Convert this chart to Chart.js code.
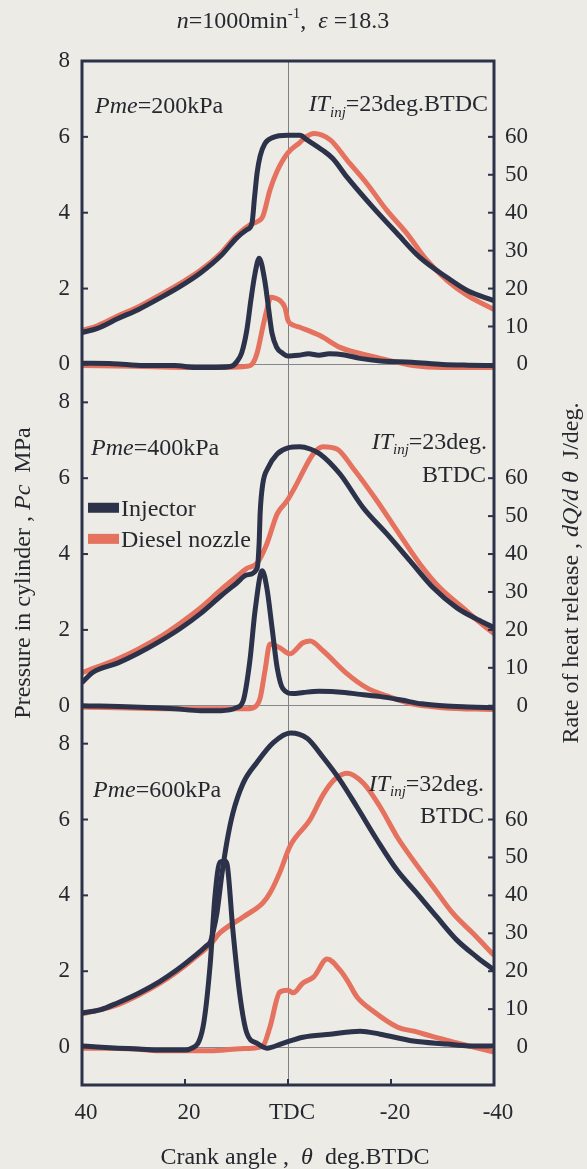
<!DOCTYPE html>
<html>
<head>
<meta charset="utf-8">
<script src="https://cdn.jsdelivr.net/npm/chart.js@4.4.0/dist/chart.umd.min.js"></script>
<style>
  body { margin: 0; background: #ecebe6; overflow: hidden; }
  canvas { display: block; }
</style>
</head>
<body>
<canvas id="chart" width="587" height="1169"></canvas>
<script>
// tick labels
const angleTicks = [40, 20, 0, -20, -40]
const pressureTicks = [0, 2, 4, 6, 8]
const heatTicks = [0, 10, 20, 30, 40, 50, 60]

// Pme = 200 kPa
const inj200PressAngle = [40, 37, 33, 29, 25, 21, 17, 13, 10, 8, 7, 6.5, 6, 5.4, 4.5, 3, 0, -2.3, -3.7, -6.8, -8.7, -11.5, -16.5, -21.2, -25.6, -30.9, -34.8, -40]
const inj200Press = [0.84, 0.95, 1.21, 1.45, 1.74, 2.05, 2.41, 2.87, 3.33, 3.55, 3.72, 4.4, 5.05, 5.5, 5.82, 5.98, 6.04, 6.04, 5.92, 5.64, 5.43, 4.93, 4.14, 3.45, 2.82, 2.29, 1.95, 1.68]
const dn200PressAngle = [40, 37, 33, 29, 25, 21, 17, 13, 10, 7.4, 6, 4.9, 3.5, 2.1, 0, -2.3, -3.5, -5, -8.2, -11.5, -15.3, -19.2, -23.1, -27, -30.9, -34.8, -40]
const dn200Press = [0.9, 1.02, 1.28, 1.52, 1.82, 2.13, 2.48, 2.94, 3.4, 3.68, 3.76, 3.9, 4.6, 5.1, 5.58, 5.85, 6.0, 6.09, 5.92, 5.38, 4.77, 4.06, 3.45, 2.74, 2.21, 1.82, 1.45]
const inj200HeatAngle = [40, 34, 28, 22, 18, 14, 11, 10, 9, 8, 7.2, 6.4, 5.6, 4.5, 3.8, 3.1, 2.2, 1, 0, -2, -4, -6, -8, -11, -14, -18, -24, -30, -35, -40]
const inj200Heat = [0.3, 0.2, -0.3, -0.3, -0.8, -0.8, -0.5, 0.6, 3, 9, 17, 24, 28, 22, 15, 8.2, 4.5, 2.9, 2.2, 2.4, 2.8, 2.4, 2.8, 2.5, 1.6, 0.9, 0.6, 0, -0.2, -0.3]
const dn200HeatAngle = [40, 30, 20, 12, 8, 7, 6, 4.9, 4, 3.3, 2.5, 1.6, 0.6, 0, -0.4, -2.3, -6.2, -10.1, -14, -17.9, -24.3, -30, -40]
const dn200Heat = [-0.3, -0.5, -0.8, -0.8, -0.5, 0, 3, 9.8, 15, 17.7, 17.5, 16.9, 15, 11.6, 10.8, 9.8, 7.6, 4.5, 2.9, 1.6, -0.3, -0.8, -0.8]

// Pme = 400 kPa
const inj400PressAngle = [40, 38, 33, 29, 25, 21, 17, 13, 10, 8, 6, 5.6, 5.4, 4.9, 3.9, 2.1, 0, -2.3, -4.3, -6.2, -10.1, -14.6, -19.2, -23.7, -28.2, -32.8, -37.3, -40]
const inj400Press = [0.61, 0.87, 1.13, 1.39, 1.69, 2.03, 2.43, 2.9, 3.23, 3.45, 3.62, 4.3, 5.1, 5.85, 6.27, 6.64, 6.8, 6.83, 6.77, 6.64, 6.11, 5.22, 4.53, 3.82, 3.11, 2.58, 2.24, 2.06]
const dn400PressAngle = [40, 33, 29, 25, 21, 17, 13, 10, 8, 6, 4.1, 2.1, 0.2, -1.7, -2.3, -4.9, -6.8, -9.5, -12.6, -17.3, -21.2, -25.6, -29.5, -34, -37.3, -40]
const dn400Press = [0.87, 1.24, 1.5, 1.8, 2.17, 2.58, 3.06, 3.4, 3.62, 3.76, 4.27, 5.06, 5.4, 5.85, 6.01, 6.64, 6.83, 6.77, 6.27, 5.4, 4.61, 3.74, 3.11, 2.58, 2.19, 1.9]
const inj400HeatAngle = [40, 30, 22, 17, 13, 10, 8.7, 7.4, 6.4, 5.0, 4.1, 3.1, 2.1, 1.0, -1, -3, -6, -11, -14, -18, -22, -26, -30, -35, -40]
const inj400Heat = [0, -0.3, -0.8, -1.3, -1.3, -0.5, 1.3, 11.9, 25, 35.6, 31, 20.6, 10, 4.5, 3.2, 3.5, 3.8, 3.5, 3.0, 2.4, 1.5, 0.5, 0, -0.3, -0.5]
const dn400HeatAngle = [40, 20, 8, 6.4, 5.4, 4.5, 3.5, 1.6, -0.4, -2.9, -4.3, -6.8, -11.5, -15.3, -19.2, -24, -30, -40]
const dn400Heat = [-0.3, -0.8, -0.8, -0.3, 2.1, 9, 16.3, 15.3, 13.7, 16.6, 17.1, 14.5, 8.4, 4.7, 2.6, 0.5, -0.5, -1.0]

// Pme = 600 kPa
const inj600PressAngle = [40, 36.5, 33, 29, 25, 21.6, 18.4, 16, 15, 14.6, 13.8, 12.8, 11.8, 10.7, 8.7, 6, 2.9, -0.5, -3.7, -6.8, -10.1, -13.4, -17.3, -21.2, -25, -28.9, -32.8, -36.7, -40]
const inj600Press = [0.9, 0.98, 1.17, 1.42, 1.72, 2.03, 2.37, 2.65, 2.8, 3.0, 3.53, 4.59, 5.46, 6.17, 6.96, 7.51, 8.02, 8.28, 8.14, 7.64, 7.04, 6.33, 5.46, 4.66, 4.06, 3.43, 2.82, 2.37, 2.03]
const dn600PressAngle = [40, 33, 29, 25, 21.6, 18.4, 15, 13.3, 8.7, 4.9, 3.5, 1.6, -0.4, -4.3, -6.8, -9, -11.5, -14.6, -17.9, -21.2, -24.3, -28.2, -32, -35.9, -40]
const dn600Press = [0.87, 1.12, 1.37, 1.67, 1.98, 2.32, 2.72, 3.0, 3.43, 3.8, 4.06, 4.6, 5.3, 6.0, 6.65, 7.05, 7.22, 6.96, 6.33, 5.54, 4.93, 4.22, 3.53, 3.0, 2.42]
const inj600HeatAngle = [40, 37, 33, 29, 25, 20, 19, 16.5, 15.1, 14.2, 13.2, 12.2, 11.8, 10.7, 9.3, 8, 6, 4.1, 1, -2.9, -8.2, -14, -17.9, -24.3, -30.9, -35, -40]
const inj600Heat = [0.3, 0, -0.3, -0.5, -0.8, -0.8, -0.5, 5.3, 22, 39.5, 48.8, 49, 48, 30.8, 13.2, 3.7, 1, -0.3, 1, 2.6, 3.4, 4.2, 3.4, 1.6, 0.8, 0.3, 0.3]
const dn600HeatAngle = [40, 30, 25, 15, 10, 7, 4.9, 3.5, 1.6, 0, -1, -2.9, -5, -7.6, -10.1, -11.5, -13.4, -16.5, -21.2, -25, -28, -32.8, -37, -40]
const dn600Heat = [-0.3, -0.5, -1, -1, -0.5, -0.3, 0.3, 5.3, 14.5, 15, 14.3, 16.9, 18.5, 23.2, 20.3, 17.6, 13.2, 9.5, 5.3, 4.0, 2.8, 1.1, -0.3, -1.3]

const navy = "#2b3249"
const salmon = "#e4725e"
const textColor = "#26282f"
const serif = "'Liberation Serif', 'Times New Roman', serif"

function pts(angles, values) {
  return angles.map((a, i) => ({ x: a, y: values[i] }))
}

function line(label, angles, values, color, axis) {
  return {
    label: label,
    data: pts(angles, values),
    borderColor: color,
    backgroundColor: color,
    borderWidth: 5,
    pointRadius: 0,
    cubicInterpolationMode: "monotone",
    yAxisID: axis,
  }
}

// navy first so it sits on top of the salmon curves
const datasets = [
  line("Injector", inj200PressAngle, inj200Press, navy, "p1"),
  line("Injector", inj200HeatAngle, inj200Heat, navy, "h1"),
  line("Injector", inj400PressAngle, inj400Press, navy, "p2"),
  line("Injector", inj400HeatAngle, inj400Heat, navy, "h2"),
  line("Injector", inj600PressAngle, inj600Press, navy, "p3"),
  line("Injector", inj600HeatAngle, inj600Heat, navy, "h3"),
  line("Diesel nozzle", dn200PressAngle, dn200Press, salmon, "p1"),
  line("Diesel nozzle", dn200HeatAngle, dn200Heat, salmon, "h1"),
  line("Diesel nozzle", dn400PressAngle, dn400Press, salmon, "p2"),
  line("Diesel nozzle", dn400HeatAngle, dn400Heat, salmon, "h2"),
  line("Diesel nozzle", dn600PressAngle, dn600Press, salmon, "p3"),
  line("Diesel nozzle", dn600HeatAngle, dn600Heat, salmon, "h3"),
]

// axes take no room of their own, the plot box comes from layout padding
function zeroSize(s) {
  if (s.isHorizontal()) s.height = 0
  else s.width = 0
  s.paddingLeft = 0
  s.paddingRight = 0
  s.paddingTop = 0
  s.paddingBottom = 0
}

// every panel axis spans the whole plot; each panel is 9 MPa tall
function panelAxis(panel, kind) {
  const min = -1 - 9 * (2 - panel)
  const factor = kind === "p" ? 1 : 10
  return {
    type: "linear",
    position: kind === "p" ? "left" : "right",
    min: min * factor,
    max: (min + 27) * factor,
    afterBuildTicks: (s) => {
      s.ticks = (kind === "p" ? pressureTicks : heatTicks).map((v) => ({ value: v }))
    },
    afterFit: zeroSize,
    border: { display: false },
    grid: {
      drawTicks: false,
      drawOnChartArea: kind === "p",
      color: (c) => (c.tick && c.tick.value === 0 ? "#85878d" : "rgba(0,0,0,0)"),
      lineWidth: 1,
    },
    ticks: { display: false },
  }
}

const scales = {
  x: {
    type: "linear",
    reverse: true,
    min: -40,
    max: 40,
    afterBuildTicks: (s) => {
      s.ticks = angleTicks.map((v) => ({ value: v }))
    },
    afterFit: zeroSize,
    border: { display: false },
    grid: {
      drawTicks: false,
      color: (c) => (c.tick && c.tick.value === 0 ? "#7d7f86" : "rgba(0,0,0,0)"),
      lineWidth: 1,
    },
    ticks: { display: false },
  },
}
;[0, 1, 2].forEach((k) => {
  scales["p" + (k + 1)] = panelAxis(k, "p")
  scales["h" + (k + 1)] = panelAxis(k, "h")
})

function fontFor(p, size) {
  const s = p.sub || p.sup ? Math.round(size * 0.62) : size
  return (p.it ? "italic " : "") + s + "px " + serif
}

function drawRich(ctx, parts, x, y, size, align) {
  let w = 0
  parts.forEach((p) => {
    ctx.font = fontFor(p, size)
    w += ctx.measureText(p.t).width
  })
  let cx = align === "right" ? x - w : align === "center" ? x - w / 2 : x
  ctx.textBaseline = "alphabetic"
  ctx.textAlign = "left"
  parts.forEach((p) => {
    ctx.font = fontFor(p, size)
    const dy = p.sub ? size * 0.22 : p.sup ? -size * 0.4 : 0
    ctx.fillText(p.t, cx, y + dy)
    cx += ctx.measureText(p.t).width
  })
}

const pme = (v) => [{ t: "Pme", it: true }, { t: "=" + v + "kPa" }]
const itInj = (v) => [{ t: "IT", it: true }, { t: "inj", it: true, sub: true }, { t: "=" + v }]

const paperPlugin = {
  id: "paper",
  beforeDraw(chart) {
    const ctx = chart.ctx
    ctx.save()
    ctx.fillStyle = "#ecebe6"
    ctx.fillRect(0, 0, chart.width, chart.height)
    ctx.restore()
  },
}

// inward tick marks, tick labels and the heavy frame
const framePlugin = {
  id: "frame",
  afterDatasetsDraw(chart) {
    const { ctx, chartArea: a } = chart
    ctx.save()
    ctx.strokeStyle = navy
    ctx.lineWidth = 2
    ctx.fillStyle = textColor
    ctx.font = "23px " + serif
    ctx.textBaseline = "middle"
    Object.values(chart.scales).forEach((s) => {
      s.ticks.forEach((t) => {
        const p = s.getPixelForValue(t.value)
        ctx.beginPath()
        if (s.axis === "x") {
          ctx.textAlign = "center"
          ctx.fillText(t.value === 0 ? "TDC" : String(t.value), p + 4, a.bottom + 28)
          if (t.value === 40 || t.value === -40) return
          ctx.moveTo(p, a.bottom)
          ctx.lineTo(p, a.bottom - 6)
        } else if (s.position === "left") {
          ctx.textAlign = "right"
          ctx.fillText(String(t.value), a.left - 12, p)
          ctx.moveTo(a.left, p)
          ctx.lineTo(a.left + 6, p)
        } else {
          ctx.textAlign = "right"
          ctx.fillText(String(t.value), a.right + 34, p)
          ctx.moveTo(a.right, p)
          ctx.lineTo(a.right - 6, p)
        }
        ctx.stroke()
      })
    })
    ctx.lineWidth = 3
    ctx.strokeRect(a.left, a.top, a.right - a.left, a.bottom - a.top)
    ctx.restore()
  },
}

const labelPlugin = {
  id: "labels",
  afterDraw(chart) {
    const { ctx, chartArea: a, scales: s } = chart
    const size = 24
    const base = (axis, v) => s[axis].getPixelForValue(v) + size * 0.33
    ctx.save()
    ctx.fillStyle = textColor

    // panel notes
    drawRich(ctx, pme(200), a.left + 13, base("p1", 6.83), size, "left")
    drawRich(ctx, itInj("23deg.BTDC"), a.right - 6, base("p1", 6.88), size, "right")
    drawRich(ctx, pme(400), a.left + 9, base("p2", 6.83), size, "left")
    drawRich(ctx, itInj("23deg."), a.right - 7, base("p2", 6.98), size, "right")
    drawRich(ctx, [{ t: "BTDC" }], a.right - 8, base("p2", 6.12), size, "right")
    drawRich(ctx, pme(600), a.left + 11, base("p3", 6.8), size, "left")
    drawRich(ctx, itInj("32deg."), a.right - 10, base("p3", 6.96), size, "right")
    drawRich(ctx, [{ t: "BTDC" }], a.right - 10, base("p3", 6.11), size, "right")

    // legend inside the middle panel
    const items = [
      { label: chart.data.datasets[0].label, color: navy, v: 5.22 },
      { label: chart.data.datasets[6].label, color: salmon, v: 4.4 },
    ]
    items.forEach((it) => {
      const y = s.p2.getPixelForValue(it.v)
      ctx.fillStyle = it.color
      ctx.fillRect(a.left + 6, y - 5, 31, 10)
      ctx.fillStyle = textColor
      drawRich(ctx, [{ t: it.label }], a.left + 39, y + size * 0.33, size, "left")
    })

    // titles
    const mid = (a.left + a.right) / 2
    drawRich(ctx, [{ t: "n", it: true }, { t: "=1000min" }, { t: "-1", sup: true }, { t: ",  " }, { t: "ε", it: true }, { t: " =18.3" }], mid - 5, 28, 24, "center")
    drawRich(ctx, [{ t: "Crank angle ,  " }, { t: "θ", it: true }, { t: "  deg.BTDC" }], mid + 7, 1164, 24, "center")

    const cy = (a.top + a.bottom) / 2
    ctx.save()
    ctx.translate(30, cy)
    ctx.rotate(-Math.PI / 2)
    drawRich(ctx, [{ t: "Pressure in cylinder , " }, { t: "Pc", it: true }, { t: "  MPa" }], 0, 0, 24, "center")
    ctx.restore()
    ctx.save()
    ctx.translate(578, cy)
    ctx.rotate(-Math.PI / 2)
    drawRich(ctx, [{ t: "Rate of heat release , " }, { t: "dQ/d θ", it: true }, { t: "  J/deg." }], 0, 0, 24, "center")
    ctx.restore()

    ctx.restore()
  },
}

const ctx = document.getElementById("chart").getContext("2d")
new Chart(ctx, {
  type: "line",
  data: { datasets: datasets },
  options: {
    responsive: false,
    animation: false,
    devicePixelRatio: 1,
    layout: { padding: { left: 82, right: 93, top: 61, bottom: 84 } },
    plugins: { legend: { display: false }, title: { display: false }, tooltip: { enabled: false } },
    scales: scales,
  },
  plugins: [paperPlugin, framePlugin, labelPlugin],
})
</script>
</body>
</html>
